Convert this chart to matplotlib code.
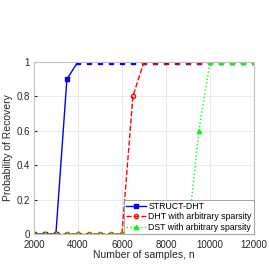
import matplotlib.pyplot as plt
import numpy as np

plt.rcParams['font.family'] = ['Liberation Sans', 'DejaVu Sans']

n_samples = np.arange(2000, 12001, 500)
struct_dht = [0, 0, 0, 0.9, 1, 1, 1, 1, 1, 1, 1, 1, 1, 1, 1, 1, 1, 1, 1, 1, 1]
dht_arb = [0, 0, 0, 0, 0, 0, 0, 0, 0, 0.8, 1, 1, 1, 1, 1, 1, 1, 1, 1, 1, 1]
dst_arb = [0, 0, 0, 0, 0, 0, 0, 0, 0, 0, 0, 0, 0, 0, 0, 0.6, 1, 1, 1, 1, 1]

fig = plt.figure(figsize=(2.69, 2.68), dpi=100)
ax = fig.add_axes([0.126, 0.127, 0.818, 0.642])

ax.plot(n_samples, struct_dht, '-s', color='#0000ff', lw=1, ms=3, label='STRUCT-DHT')
ax.plot(n_samples, dht_arb, '--o', color='#ff0000', lw=1, ms=3,
        markerfacecolor='none', label='DHT with arbitrary sparsity')
ax.plot(n_samples, dst_arb, ':^', color='#00ff00', lw=1, ms=3, label='DST with arbitrary sparsity')

ax.set_xlim(2000, 12000)
ax.set_ylim(0, 1)
ax.set_xticks(np.arange(2000, 12001, 2000))
ax.set_yticks([0, 0.2, 0.4, 0.6, 0.8, 1])
ax.set_yticklabels(['0', '0.2', '0.4', '0.6', '0.8', '1'])
ax.tick_params(direction='in', labelsize=7, length=2, colors='#262626')
ax.tick_params(axis='x', pad=4)
ax.tick_params(axis='y', pad=3)
ax.grid(True, color='#e6e6e6', lw=0.6)
for s in ax.spines.values():
    s.set_color('#bfbfbf')
    s.set_linewidth(0.8)

ax.set_xlabel('Number of samples, n', fontsize=7.5, color='#262626', labelpad=0)
ax.set_ylabel('Probability of Recovery', fontsize=7.5, color='#262626', labelpad=2)

leg = ax.legend(loc='lower right', fontsize=6.3, borderaxespad=0, handlelength=2.2,
                handletextpad=0.3, borderpad=0.25, labelspacing=0.15, fancybox=False,
                framealpha=1, edgecolor='#999999')
leg.get_frame().set_linewidth(0.6)

fig.savefig('out.png', dpi=100)
